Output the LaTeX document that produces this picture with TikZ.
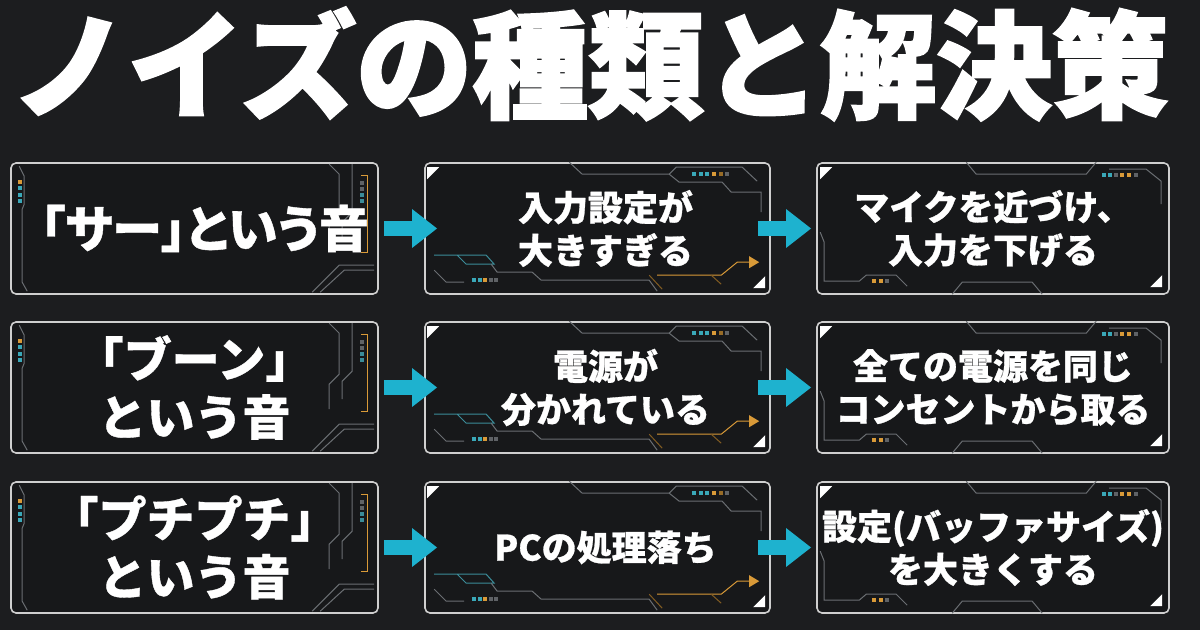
\documentclass[tikz,border=0pt]{standalone}
\usepackage{fontspec}
\newfontfamily\jp{Noto Sans CJK JP}[BoldFeatures={FakeBold=0.8}]
\newfontfamily\jpp{Noto Sans CJK JP}[RawFeature=+palt,BoldFeatures={FakeBold=0.8}]
\newfontfamily\jpt{Noto Sans CJK JP}[BoldFeatures={FakeBold=2.2}]
\usetikzlibrary{arrows.meta}
\definecolor{bg}{HTML}{1C1D1F}
\definecolor{boxfill}{HTML}{17181A}
\definecolor{boxline}{HTML}{CFCFCF}
\definecolor{circ}{HTML}{6A6E72}
\definecolor{teal}{HTML}{3B8C99}
\definecolor{orng}{HTML}{D99A38}
\definecolor{cyd}{HTML}{3AA8B8}
\definecolor{grd}{HTML}{5F6266}
\definecolor{arrowc}{HTML}{1EB2CF}
\newcommand\sq[2]{\fill[#1] (#2) ++(-1.8,-1.8) rectangle ++(3.6,3.6);}
\newcommand\decorA[1]{%
\begin{scope}[shift={(#1)}]
 \draw[circuit] (9,4)--(14,14)--(14,42)--(12,47)--(12,120)--(17,129);
 \sq{orng}{10,20}\sq{cyd}{10,26}\sq{cyd}{10,33}\sq{cyd}{10,39}
 \draw[circuit] (319,2)--(329,12)--(329,53)--(319,63)--(319,88);
 \draw[circuit] (342,2)--(342,50)--(332,60)--(332,78);
 \draw[orng,line width=0.5pt] (351,13)--(357,13)--(357,90)--(351,90);
 \sq{grd}{352,21}\sq{grd}{352,27}\sq{teal}{352,33}\sq{teal}{352,39}
 \draw[circuit] (302,130)--(329,103)--(364,103);
 \draw[circuit] (310,130)--(334,108)--(364,108);
\end{scope}}
\newcommand\decorB[1]{%
\begin{scope}[shift={(#1)}]
 \fill[white] (3,5)--(15,5)--(3,17)--cycle;
 \fill[white] (341,114)--(341,126)--(329,126)--cycle;
 \draw[circuit] (145,0)--(158,12)--(245,12);
 \draw[circuit] (245,12)--(252,5)--(318,5)--(333,19);
 \draw[circuit] (245,12)--(255,20)--(298,20)--(307,30)--(337,30)--(337,50);
 \sq{cyd}{270,12}\sq{cyd}{277,12}\sq{cyd}{283,12}\sq{orng}{290,12}\sq{orng!70!black}{297,12}\sq{grd}{303,12}
 \draw[teal,line width=0.5pt] (10,93)--(62,93)--(70,102)--(42,102)--(33,93);
 \draw[circuit] (10,108)--(22,120)--(40,120);
 \draw[circuit] (67,102)--(73,110)--(108,110)--(117,118)--(225,118)--(233,129);
 \sq{cyd}{50,118}\sq{cyd}{56,118}\sq{orng}{61,118}\sq{grd}{67,118}\sq{grd}{72,118}
 \draw[orng,line width=0.5pt] (233,113)--(297,113)--(313,100)--(325,100);
 \fill[orng] (325,94)--(335,100)--(325,106)--cycle;
 \draw[orng!60!black,line width=0.5pt] (225,113)--(238,127);
 \draw[orng!60!black,line width=0.5pt] (287,113)--(297,122);
\end{scope}}
\newcommand\decorC[1]{%
\begin{scope}[shift={(#1)}]
 \fill[white] (4,5)--(16,5)--(4,17)--cycle;
 \fill[white] (346,113)--(346,125)--(334,125)--cycle;
 \draw[circuit] (150,0)--(160,12)--(270,12)--(280,0);
 \draw[circuit] (293,7)--(330,7)--(345,19)--(345,42);
 \sq{cyd}{288,13}\sq{cyd}{294,13}\sq{grd}{300,13}\sq{orng}{306,13}\sq{orng}{313,13}\sq{grd}{320,13}
 \draw[circuit] (4,70)--(8,80)--(8,119)--(43,119)--(50,113)--(80,113)--(91,124);
 \sq{orng}{58,119}\sq{orng}{65,119}\sq{grd}{71,119}
 \draw[circuit] (136,132)--(146,120)--(216,120)--(226,132);
\end{scope}}
\begin{document}
\begin{tikzpicture}[x=0.5pt,y=-0.5pt,
  circuit/.style={draw=circ,line width=0.5pt},
  box/.style={draw=boxline,fill=boxfill,line width=0.8pt,rounded corners=2.5pt,inner sep=0pt,minimum height=65.5pt},
  colA/.style={box,minimum width=183.5pt},
  colB/.style={box,minimum width=172.5pt},
  colC/.style={box,minimum width=176pt},
  txt/.style={text=white,align=center,inner sep=0pt,font=\jp\bfseries},
  big/.style={txt,font=\jp\bfseries\fontsize{24pt}{29pt}\selectfont},
  mid/.style={txt,font=\jp\bfseries\fontsize{17.5pt}{21.5pt}\selectfont},
  fat/.style={draw=arrowc,line width=7.5pt,-{Triangle[width=18.5pt,length=12.5pt]}}]
\fill[bg] (0,0) rectangle (1200,630);
\useasboundingbox (0,0) rectangle (1200,630);
\node[txt,font=\jpt\bfseries\fontsize{58pt}{60pt}\selectfont] (title) at (590,64) {ノイズの種類と解決策};
% boxes
\node[colA] (a1) at (194.5,228.5) {};
\node[colB] (b1) at (597.5,228.5) {};
\node[colC] (c1) at (993,228.5) {};
\node[colA] (a2) at (194.5,387.5) {};
\node[colB] (b2) at (597.5,387.5) {};
\node[colC] (c2) at (993,387.5) {};
\node[colA] (a3) at (194.5,547.5) {};
\node[colB] (b3) at (597.5,547.5) {};
\node[colC] (c3) at (993,547.5) {};
\decorA{a1.north west}\decorA{a2.north west}\decorA{a3.north west}
\decorB{b1.north west}\decorB{b2.north west}\decorB{b3.north west}
\decorC{c1.north west}\decorC{c2.north west}\decorC{c3.north west}
% texts
\node[txt,font=\jpp\bfseries\fontsize{25pt}{28pt}\selectfont] (ta1) at ([xshift=5pt]a1.center) {「サー」という音};
\node[big] (ta2) at (a2.center) {「ブーン」\\という音};
\node[big] (ta3) at (a3.center) {「プチプチ」\\という音};
\node[mid] (tb1) at ([xshift=4pt]b1.center) {入力設定が\\大きすぎる};
\node[mid] (tb2) at ([xshift=4pt]b2.center) {電源が\\分かれている};
\node[mid] (tb3) at ([xshift=4pt]b3.center) {PCの処理落ち};
\node[mid] (tc1) at (c1.center) {マイクを近づけ、\\入力を下げる};
\node[mid] (tc2) at (c2.center) {全ての電源を同じ\\コンセントから取る};
\node[mid] (tc3) at (c3.center) {設定(バッファサイズ)\\を大きくする};
% arrows
\foreach \r in {1,2,3}{
  \draw[fat] ([xshift=2.5pt]a\r.east) -- ([xshift=6.5pt]b\r.west);
  \draw[fat] ([xshift=-6.5pt]b\r.east) -- ([xshift=-2.5pt]c\r.west);
}
\end{tikzpicture}
\end{document}
